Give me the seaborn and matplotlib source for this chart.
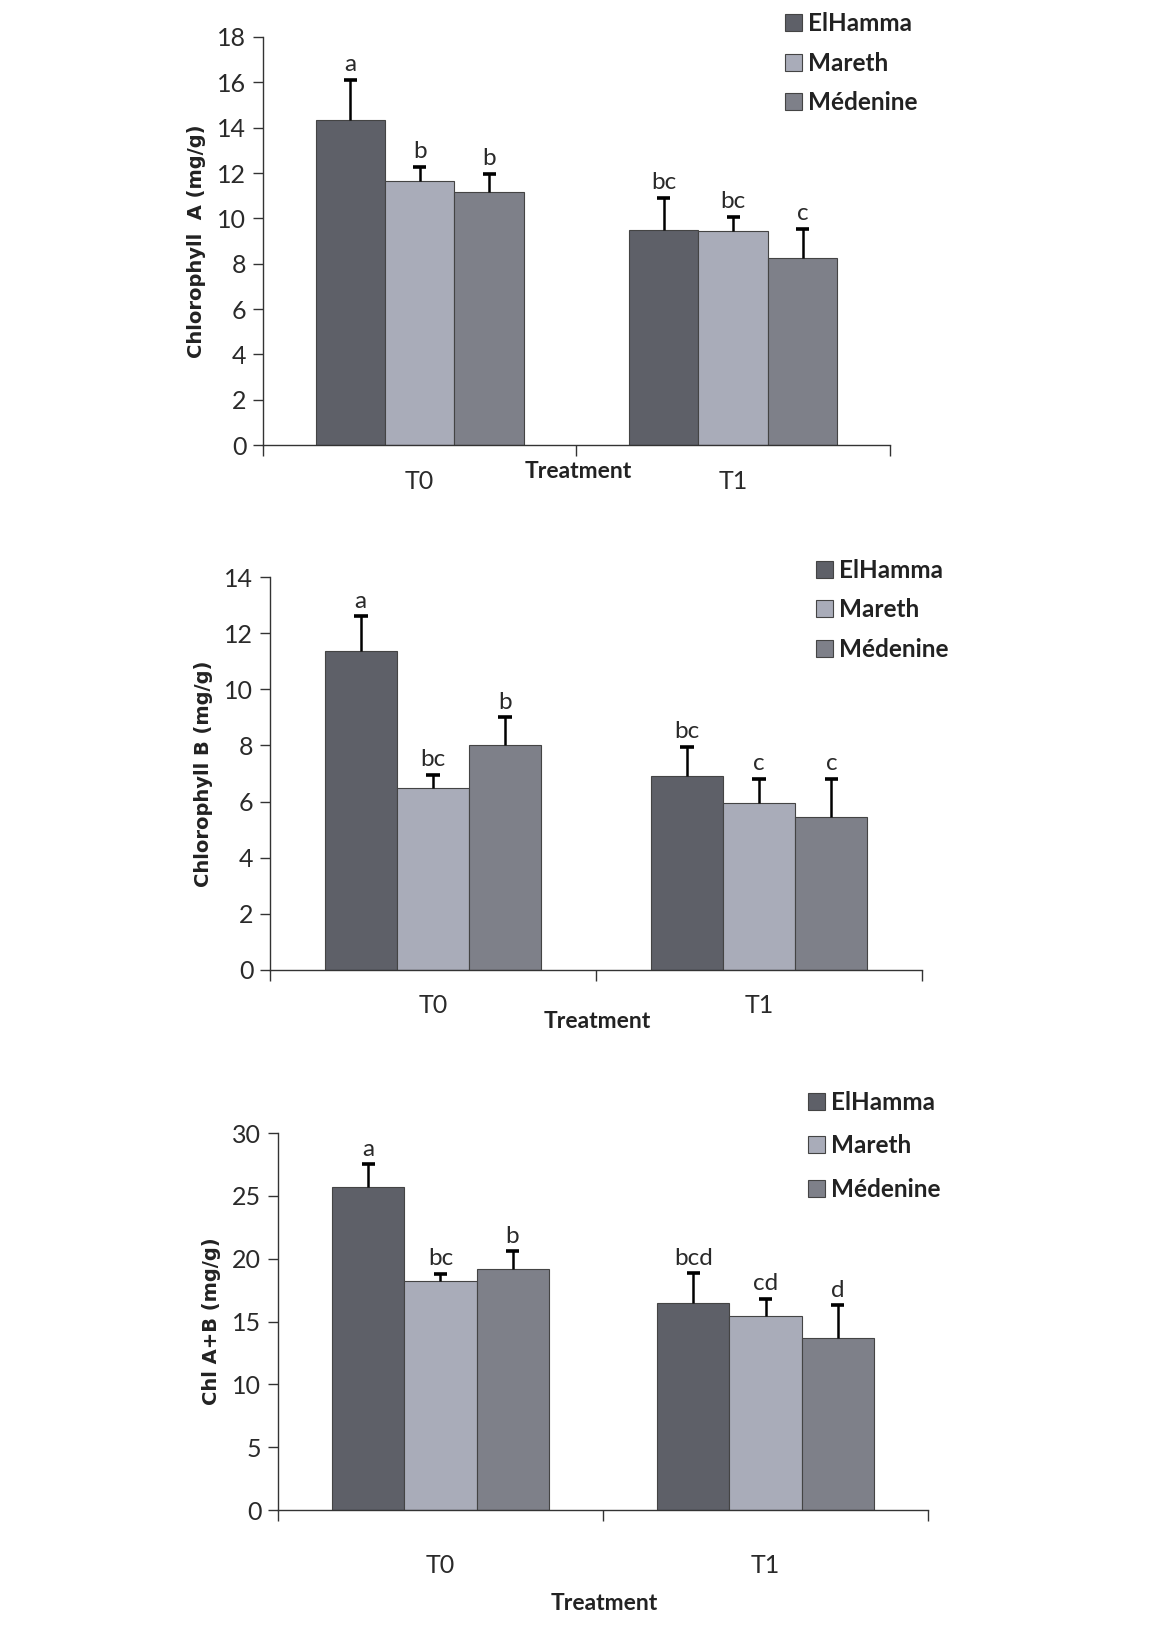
import numpy as np
import pandas as pd
import matplotlib
matplotlib.use("Agg")
import matplotlib.pyplot as plt
import matplotlib.ticker as ticker
import seaborn as sns

# Data
treatments = ["T0", "T1"]
sites = ["ElHamma", "Mareth", "Médenine"]

chl_a = {"ElHamma": [14.35, 9.50], "Mareth": [11.65, 9.45], "Médenine": [11.15, 8.25]}
chl_a_err = {"ElHamma": [1.75, 1.40], "Mareth": [0.60, 0.60], "Médenine": [0.80, 1.30]}
chl_a_letters = {"ElHamma": ["a", "bc"], "Mareth": ["b", "bc"], "Médenine": ["b", "c"]}

chl_b = {"ElHamma": [11.35, 6.90], "Mareth": [6.50, 5.95], "Médenine": [8.00, 5.45]}
chl_b_err = {"ElHamma": [1.25, 1.05], "Mareth": [0.45, 0.85], "Médenine": [1.00, 1.35]}
chl_b_letters = {"ElHamma": ["a", "bc"], "Mareth": ["bc", "c"], "Médenine": ["b", "c"]}

chl_ab = {"ElHamma": [25.70, 16.45], "Mareth": [18.20, 15.45], "Médenine": [19.20, 13.70]}
chl_ab_err = {"ElHamma": [1.80, 2.40], "Mareth": [0.60, 1.35], "Médenine": [1.40, 2.60]}
chl_ab_letters = {"ElHamma": ["a", "bcd"], "Mareth": ["bc", "cd"], "Médenine": ["b", "d"]}

colors = ["#5e6068", "#a9acb9", "#7e8089"]


def to_long(vals, errs, letters):
    rows = []
    for s in sites:
        for i, t in enumerate(treatments):
            rows.append({"treatment": t, "site": s, "value": vals[s][i],
                         "err": errs[s][i], "letter": letters[s][i]})
    return pd.DataFrame(rows)


def draw_panel(fig, rect, df, ymax, ystep, ylabel, legend_pos, leg_space, tlabel_pad, treat_xy):
    ax = fig.add_axes(rect)
    sns.barplot(data=df, x="treatment", y="value", hue="site", order=treatments,
                hue_order=sites, palette=colors, width=0.665, errorbar=None,
                edgecolor="#444444", linewidth=0.8, saturation=1, ax=ax)

    # error bars (upper only) and significance letters
    cap = 0.021
    for k, s in enumerate(sites):
        cont = ax.containers[k]
        sub = df[df["site"] == s].set_index("treatment").loc[treatments]
        for bar, (_, r) in zip(cont, sub.iterrows()):
            xc = bar.get_x() + bar.get_width() / 2
            top = r["value"] + r["err"]
            ax.vlines(xc, r["value"], top, color="black", lw=1.8, zorder=3)
            ax.hlines(top, xc - cap, xc + cap, color="black", lw=2.6, zorder=3)
            ax.text(xc, top + ymax * 0.012, r["letter"], ha="center", va="bottom",
                    fontsize=17.5, family="Lato", color="#2a2a2a")

    ax.set_xlim(-0.5, 1.5)
    ax.set_ylim(0, ymax)
    ax.yaxis.set_major_locator(ticker.MultipleLocator(ystep))
    ax.xaxis.set_major_locator(ticker.FixedLocator([0, 1]))
    ax.xaxis.set_minor_locator(ticker.FixedLocator([-0.5, 0.5, 1.5]))
    ax.tick_params(axis="x", which="major", length=0, pad=tlabel_pad)
    ax.tick_params(axis="x", which="minor", length=8, width=1, color="#333333", direction="out")
    ax.tick_params(axis="y", length=7, width=1, color="#333333", direction="out", pad=5)
    for lab in ax.get_xticklabels() + ax.get_yticklabels():
        lab.set_family("Lato")
        lab.set_fontsize(18)
        lab.set_color("#2a2a2a")
    for sp in ["top", "right"]:
        ax.spines[sp].set_visible(False)
    for sp in ["left", "bottom"]:
        ax.spines[sp].set_color("#333333")
        ax.spines[sp].set_linewidth(1)

    ax.set_xlabel("")
    ax.set_ylabel(ylabel, fontsize=14, fontweight="bold", family="DejaVu Sans",
                  color="#222222", labelpad=8)
    fig.text(treat_xy[0], treat_xy[1], "Treatment", ha="center", va="center",
             fontsize=16.5, fontweight="bold", family="Lato", color="#222222")

    leg = ax.legend(loc="upper left", bbox_to_anchor=legend_pos, bbox_transform=fig.transFigure,
                    frameon=False, handlelength=0.7, handleheight=0.7, handletextpad=0.25,
                    labelspacing=leg_space, borderpad=0,
                    prop={"family": "Lato", "weight": "bold", "size": 17.5})
    for txt in leg.get_texts():
        txt.set_color("#222222")
    return ax


fig = plt.figure(figsize=(11.65, 16.44), dpi=100)
fig.patch.set_facecolor("white")

draw_panel(fig, [0.2258, 0.7293, 0.538, 0.2482], to_long(chl_a, chl_a_err, chl_a_letters),
           18, 2, "Chlorophyll  A (mg/g)", (0.663, 1.0), 0.68, 18, (578 / 1165, 1 - 472 / 1644))
draw_panel(fig, [0.2318, 0.4100, 0.5597, 0.2390], to_long(chl_b, chl_b_err, chl_b_letters),
           14, 2, "Chlorophyll B (mg/g)", (0.690, 0.6675), 0.68, 17, (597 / 1165, 1 - 1022 / 1644))
draw_panel(fig, [0.2386, 0.0815, 0.558, 0.2293], to_long(chl_ab, chl_ab_err, chl_ab_letters),
           30, 5, "Chl A+B (mg/g)", (0.683, 0.3440), 0.85, 32, (604 / 1165, 1 - 1603 / 1644))

fig.savefig("out.png", dpi=100)
